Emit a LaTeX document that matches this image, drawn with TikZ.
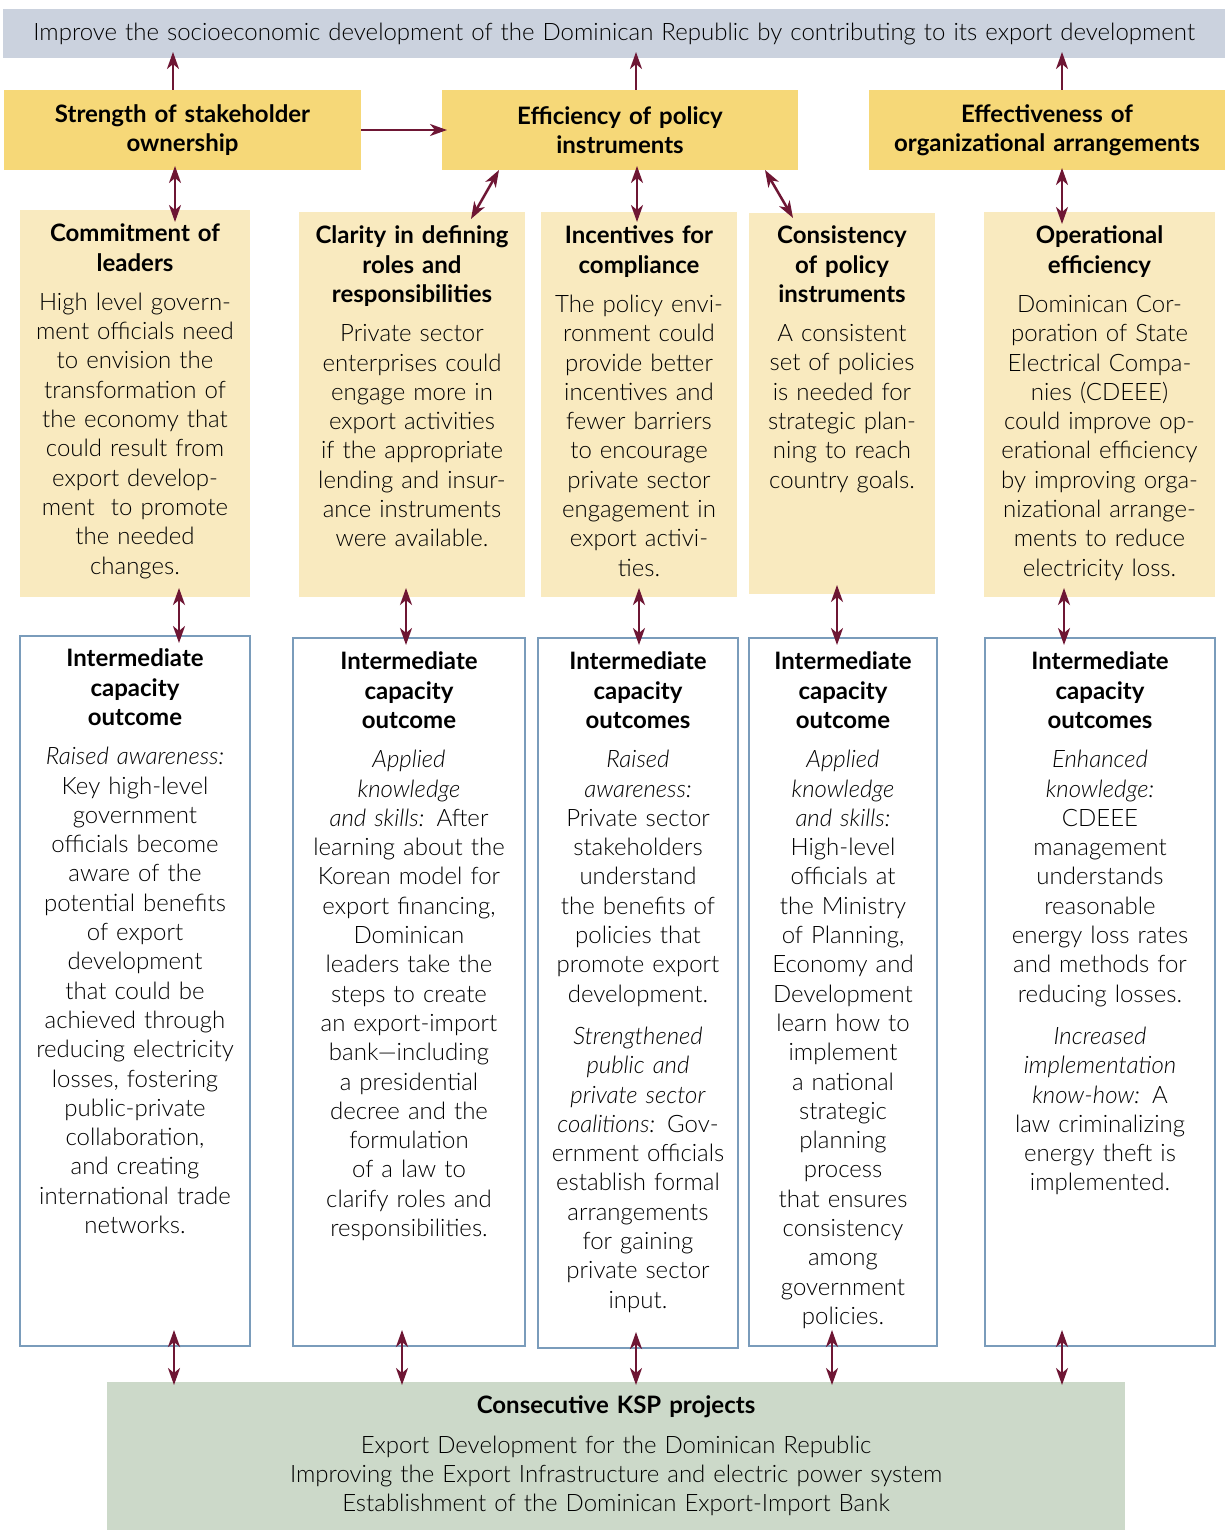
\documentclass[tikz,border=0pt]{standalone}
\usepackage{fontspec}
\setmainfont{Lato}[UprightFont=* Light, ItalicFont=* Light Italic, BoldFont=* Bold]
\usetikzlibrary{arrows.meta}
\usetikzlibrary{positioning}

\definecolor{goalgray}{RGB}{203,210,222}
\definecolor{darkyellow}{RGB}{246,216,120}
\definecolor{lightyellow}{RGB}{249,234,191}
\definecolor{boxblue}{RGB}{122,156,187}
\definecolor{kspgreen}{RGB}{204,217,201}
\definecolor{arrowred}{RGB}{110,22,52}

\begin{document}
\begin{tikzpicture}[x=1pt, y=-1pt,
    every node/.style={inner sep=0pt, outer sep=0pt},
    area/.style={anchor=north west},
    txt/.style={anchor=north, align=center, text width=#1,
      font=\fontsize{24}{29.3}\selectfont},
    link/.style={-{Stealth[length=17pt, width=12pt, inset=5pt]},
      line width=2.5pt, draw=arrowred},
    dlink/.style={{Stealth[length=17pt, width=12pt, inset=5pt]}-{Stealth[length=17pt, width=12pt, inset=5pt]},
      line width=2.5pt, draw=arrowred}]
  \useasboundingbox (0,0) rectangle (1225,1533);

  % goal and the three factors
  \node[area, fill=goalgray, minimum width=1222pt, minimum height=49pt] (goal) at (3,9) {};
  \node[txt=1215pt, anchor=center] (goaltxt) at (goal.center)
    {Improve the socioeconomic development of the Dominican Republic by contributing to its export development};
  \node[area, fill=darkyellow, minimum width=357pt, minimum height=80pt] (top1) at (4,90) {};
  \node[area, fill=darkyellow, minimum width=356pt, minimum height=80pt] (top2) at (442,90) {};
  \node[area, fill=darkyellow, minimum width=356pt, minimum height=80pt] (top3) at (869,90) {};
  \node[txt=350pt, anchor=center] (top1txt) at (top1.center) {\bfseries Strength of stakeholder\\ownership};
  \node[txt=350pt, anchor=center] (top2txt) at (top2.center) {\bfseries Efficiency of policy\\instruments};
  \node[txt=350pt, anchor=center] (top3txt) at (top3.center) {\bfseries Effectiveness of\\organizational arrangements};

  % ownership, policy, organizational areas
  \node[area, fill=lightyellow, minimum width=230pt, minimum height=387pt] (lc1) at (20,210) {};
  \node[area, fill=lightyellow, minimum width=226pt, minimum height=385pt] (lc2) at (299,212) {};
  \node[area, fill=lightyellow, minimum width=196pt, minimum height=385pt] (lc3) at (541,212) {};
  \node[area, fill=lightyellow, minimum width=186pt, minimum height=381pt] (lc4) at (749,213) {};
  \node[area, fill=lightyellow, minimum width=231pt, minimum height=385pt] (lc5) at (984,212) {};

  \node[txt=228pt, below=14pt of lc1.north] (lc1txt) {{\bfseries Commitment of\\leaders}\\[10pt]
    High level govern-\\ment officials need\\to envision the\\transformation of\\the economy that\\could result from\\export develop-\\ment~ to promote\\the needed\\changes.};
  \node[txt=224pt, below=14pt of lc2.north] (lc2txt) {{\bfseries Clarity in defining\\roles and\\responsibilities}\\[10pt]
    Private sector\\enterprises could\\engage more in\\export activities\\if the appropriate\\lending and insur-\\ance instruments\\were available.};
  \node[txt=194pt, below=14pt of lc3.north] (lc3txt) {{\bfseries Incentives for\\compliance}\\[10pt]
    The policy envi-\\ronment could\\provide better\\incentives and\\fewer barriers\\to encourage\\private sector\\engagement in\\export activi-\\ties.};
  \node[txt=184pt, below=13pt of lc4.north] (lc4txt) {{\bfseries Consistency\\of policy\\instruments}\\[10pt]
    A consistent\\set of policies\\is needed for\\strategic plan-\\ning to reach\\country goals.};
  \node[txt=229pt, below=14pt of lc5.north] (lc5txt) {{\bfseries Operational\\efficiency}\\[10pt]
    Dominican Cor-\\poration of State\\Electrical Compa-\\nies (CDEEE)\\could improve op-\\erational efficiency\\by improving orga-\\nizational arrange-\\ments to reduce\\electricity loss.};

  % intermediate capacity outcomes
  \node[area, draw=boxblue, line width=1.5pt, fill=white, minimum width=230pt, minimum height=710pt] (oc1) at (20,636) {};
  \node[area, draw=boxblue, line width=1.5pt, fill=white, minimum width=232pt, minimum height=708pt] (oc2) at (293,638) {};
  \node[area, draw=boxblue, line width=1.5pt, fill=white, minimum width=200pt, minimum height=710pt] (oc3) at (538,638) {};
  \node[area, draw=boxblue, line width=1.5pt, fill=white, minimum width=188pt, minimum height=708pt] (oc4) at (749,638) {};
  \node[area, draw=boxblue, line width=1.5pt, fill=white, minimum width=230pt, minimum height=708pt] (oc5) at (985,638) {};

  \node[txt=226pt, below=13pt of oc1.north] (oc1txt) {{\bfseries Intermediate\\capacity\\outcome}\\[10pt]
    \textit{Raised awareness:}\\Key high-level\\government\\officials become\\aware of the\\potential benefits\\of export\\development\\that could be\\achieved through\\reducing electricity\\losses, fostering\\public-private\\collaboration,\\and creating\\international trade\\networks.};
  \node[txt=228pt, below=14pt of oc2.north] (oc2txt) {{\bfseries Intermediate\\capacity\\outcome}\\[10pt]
    \textit{Applied}\\\textit{knowledge}\\\textit{and skills:} After\\learning about the\\Korean model for\\export financing,\\Dominican\\leaders take the\\steps to create\\an export-import\\bank---including\\a presidential\\decree and the\\formulation\\of a law to\\clarify roles and\\responsibilities.};
  \node[txt=196pt, below=14pt of oc3.north] (oc3txt) {{\bfseries Intermediate\\capacity\\outcomes}\\[10pt]
    \textit{Raised}\\\textit{awareness:}\\Private sector\\stakeholders\\understand\\the benefits of\\policies that\\promote export\\development.\\[13pt]
    \textit{Strengthened}\\\textit{public and}\\\textit{private sector}\\\textit{coalitions:} Gov-\\ernment officials\\establish formal\\arrangements\\for gaining\\private sector\\input.};
  \node[txt=184pt, below=14pt of oc4.north] (oc4txt) {{\bfseries Intermediate\\capacity\\outcome}\\[10pt]
    \textit{Applied}\\\textit{knowledge}\\\textit{and skills:}\\High-level\\officials at\\the Ministry\\of Planning,\\Economy and\\Development\\learn how to\\implement\\a national\\strategic\\planning\\process\\that ensures\\consistency\\among\\government\\policies.};
  \node[txt=226pt, below=14pt of oc5.north] (oc5txt) {{\bfseries Intermediate\\capacity\\outcomes}\\[10pt]
    \textit{Enhanced}\\\textit{knowledge:}\\CDEEE\\management\\understands\\reasonable\\energy loss rates\\and methods for\\reducing losses.\\[13pt]
    \textit{Increased}\\\textit{implementation}\\\textit{know-how:} A\\law criminalizing\\energy theft is\\implemented.};

  % KSP projects
  \node[area, fill=kspgreen, minimum width=1018pt, minimum height=148pt] (ksp) at (107,1382) {};
  \node[txt=1000pt, below=14pt of ksp.north] (ksptxt) {{\bfseries Consecutive KSP projects}\\[10pt]
    Export Development for the Dominican Republic\\Improving the Export Infrastructure and electric power system\\Establishment of the Dominican Export-Import Bank};

  % arrows
  \foreach \n/\dx in {1/-9.5, 2/16, 3/15}
    \draw[link, shorten >=-6pt] ([xshift=\dx pt]top\n.north) -- ([xshift=\dx pt]top\n.north |- goal.south);
  \draw[link, shorten >=-5pt] (top1.east) -- (top2.west);

  \draw[dlink, shorten <=-4pt, shorten >=-12pt] ([xshift=-7.5pt]top1.south) -- ([xshift=-7.5pt]top1.south |- lc1.north);
  \draw[dlink] ([xshift=-121pt]top2.south) -- ([xshift=59pt, yshift=-7pt]lc2.north);
  \draw[dlink, shorten <=-4pt, shorten >=-10pt] ([xshift=17pt]top2.south) -- ([xshift=17pt]top2.south |- lc3.north);
  \draw[dlink] ([xshift=145pt]top2.south) -- ([xshift=-49pt, yshift=-5pt]lc4.north);
  \draw[dlink, shorten <=-2pt, shorten >=-12pt] ([xshift=15pt]top3.south) -- ([xshift=15pt]top3.south |- lc5.north);

  \foreach \n/\dx in {1/44, 2/-6, 3/0, 4/-5, 5/-35.5}
    \draw[dlink, shorten <=-9pt, shorten >=-7pt] ([xshift=\dx pt]lc\n.south) -- ([xshift=\dx pt]lc\n.south |- oc\n.north);

  \foreach \n/\dx in {1/39, 2/-7, 3/-2, 4/-11, 5/-38}
    \draw[dlink, shorten <=-16pt, shorten >=-3pt] ([xshift=\dx pt]oc\n.south) -- ([xshift=\dx pt]oc\n.south |- ksp.north);
\end{tikzpicture}
\end{document}
